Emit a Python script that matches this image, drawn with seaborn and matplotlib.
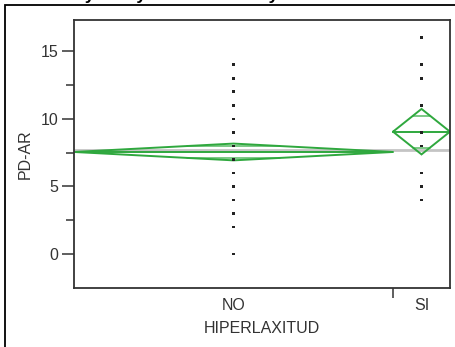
import numpy as np
import pandas as pd
import matplotlib
matplotlib.use("Agg")
import matplotlib.pyplot as plt
import matplotlib.patches as mpatches
import seaborn as sns

# ---- data ----
groups = ["NO", "SI"]
group_n = [112, 20]                 # relative group sizes (width of each group)
no_values = [14, 13, 12, 11, 10, 9, 8, 7, 6, 5, 4, 3, 2, 0]
si_values = [16, 14, 13, 11, 9, 8, 6, 5, 4]
group_means = [7.55, 9.05]
group_ci = [0.62, 1.68]             # half-width of 95% CI (diamond half height)
grand_mean = 7.7
y_ticks = [0, 5, 10, 15]
y_minor = [2.5, 7.5, 12.5]
title = "Oneway Analysis of PD-AR By HIPERLAXITUD"
x_label = "HIPERLAXITUD"
y_label = "PD-AR"

sns.set_style("white")
plt.rcParams["font.family"] = ["Liberation Sans", "DejaVu Sans"]

W, H = 455, 347
fig = plt.figure(figsize=(W / 100, H / 100), dpi=100)
ax = fig.add_axes([74 / W, 1 - 288 / H, (450 - 74) / W, (288 - 20) / H])

# group positions
edges = np.concatenate([[0], np.cumsum(group_n)])
centers = (edges[:-1] + edges[1:]) / 2
N = edges[-1]

# points
df = pd.DataFrame({
    "x": [centers[0]] * len(no_values) + [centers[1]] * len(si_values),
    "y": no_values + si_values,
})

ax.axhline(grand_mean, color="#c4c4c4", lw=2.0, zorder=1)

green = "#2fa83e"
for i in range(len(groups)):
    x0, x1, xc = edges[i], edges[i + 1], centers[i]
    m, c = group_means[i], group_ci[i]
    dx = [x0, xc, x1, xc, x0]
    dy = [m, m + c, m, m - c, m]
    ax.plot(dx, dy, color=green, lw=1.4, zorder=2, solid_joinstyle="miter")
    ax.plot([x0, x1], [m, m], color=green, lw=1.4, zorder=2)
    # overlap marks
    o = c / np.sqrt(2)
    frac = 1 - o / c
    half = (x1 - x0) / 2 * frac
    for yy in (m + o, m - o):
        ax.plot([xc - half, xc + half], [yy, yy], color=green, lw=1.1, alpha=0.8, zorder=2)

sns.scatterplot(data=df, x="x", y="y", ax=ax, marker="s", s=3.5, color="#222222",
                edgecolor="none", zorder=3, legend=False)

ax.set_xlim(0, N)
ax.set_ylim(-2.5, 17.3)
ax.set_yticks(y_ticks)
ax.set_yticks(y_minor, minor=True)
ax.set_xticks(centers)
ax.set_xticklabels(groups)
ax.set_xticks([edges[1]], minor=True)
ax.tick_params(axis="y", which="major", direction="out", length=9, width=1.1,
               labelsize=11.5, labelcolor="#333333", color="#333333", pad=2, left=True)
ax.tick_params(axis="y", which="minor", direction="out", length=6, width=1.1,
               color="#333333", left=True)
ax.tick_params(axis="x", which="major", length=0, labelsize=11.5, labelcolor="#333333", pad=7)
ax.tick_params(axis="x", which="minor", direction="out", length=7, width=1.1,
               color="#333333", bottom=True)

ax.set_xlabel(x_label, fontsize=11.5, color="#333333", labelpad=6)
ax.set_ylabel(y_label, fontsize=11.5, color="#333333", labelpad=6)

for s in ax.spines.values():
    s.set_visible(True)
    s.set_color("#333333")
    s.set_linewidth(1.3)

# outer frame of the report
fig.patches.append(mpatches.Rectangle((5 / W, -0.1), 1.2, 1 - 5 / H + 0.1,
                                      transform=fig.transFigure, fill=False,
                                      edgecolor="black", lw=1.3, clip_on=False))
# title, mostly cut off at top
fig.text(28 / W, 1 + 0.5 / H, title, fontsize=12.5, fontweight="bold",
         ha="left", va="baseline", color="black")

fig.savefig("out.png", dpi=100)
